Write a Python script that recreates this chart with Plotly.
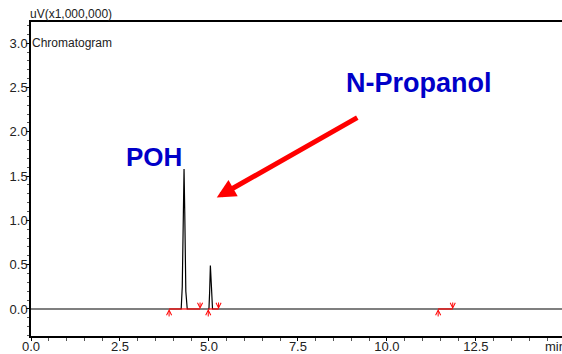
import plotly.graph_objects as go

# Chromatogram signal (time in min, signal in uV x1,000,000)
time_min = [0.0, 4.22, 4.25, 4.28, 4.30, 4.32, 4.35, 4.39, 5.00, 5.02, 5.04, 5.07, 5.10, 15.0]
signal = [0.0, 0.0, 0.25, 1.05, 1.58, 1.10, 0.20, 0.0, 0.0, 0.20, 0.49, 0.25, 0.0, 0.0]

# integration marks
peak_starts = [3.88, 4.98, 11.44]
peak_ends = [4.75, 5.27, 11.85]

y_tick_vals = [0.0, 0.5, 1.0, 1.5, 2.0, 2.5, 3.0]
y_tick_text = ["0.0", "0.5", "1.0", "1.5", "2.0", "2.5", "3.0"]
x_tick_vals = [0.0, 2.5, 5.0, 7.5, 10.0, 12.5]
x_tick_text = ["0.0", "2.5", "5.0", "7.5", "10.0", "12.5"]

FONT = "Arial, Liberation Sans, sans-serif"
RED = "#ff0000"
BLUE = "#0000c8"

W, H = 562, 354
ML, MR, MT, MB = 31, 0, 22, 18
PW, PH = W - ML - MR, H - MT - MB


def px(xp):
    return (xp - ML) / PW


def py(yp):
    return (H - MB - yp) / PH


fig = go.Figure()
fig.add_trace(go.Scatter(x=time_min, y=signal, mode="lines",
                         line=dict(color="black", width=1.2), hoverinfo="skip"))
for s, e in zip(peak_starts, peak_ends):
    fig.add_trace(go.Scatter(x=[s, e], y=[0, 0], mode="lines",
                             line=dict(color=RED, width=1.2), hoverinfo="skip"))

annotations = []
for s in peak_starts:
    annotations.append(dict(x=s, y=0, xref="x", yref="y", ax=0, ay=9,
                            showarrow=True, arrowhead=5, arrowsize=1, arrowwidth=1,
                            arrowcolor=RED, text=""))
for e in peak_ends:
    annotations.append(dict(x=e, y=0, xref="x", yref="y", ax=0, ay=-8,
                            showarrow=True, arrowhead=5, arrowsize=1, arrowwidth=1,
                            arrowcolor=RED, text=""))

# big red pointer arrow
annotations.append(dict(x=5.22, y=1.26, xref="x", yref="y",
                        ax=9.21, ay=2.17, axref="x", ayref="y",
                        showarrow=True, arrowhead=2, arrowsize=0.75, arrowwidth=5,
                        arrowcolor=RED, text=""))
annotations.append(dict(x=px(419), y=py(83), xref="paper", yref="paper",
                        xanchor="center", yanchor="middle",
                        text="<b>N-Propanol</b>", showarrow=False,
                        font=dict(family=FONT, size=27, color=BLUE)))
annotations.append(dict(x=px(153.5), y=py(156.5), xref="paper", yref="paper",
                        xanchor="center", yanchor="middle",
                        text="<b>POH</b>", showarrow=False,
                        font=dict(family=FONT, size=26, color=BLUE)))
annotations.append(dict(x=px(28), y=1, xref="paper", yref="paper",
                        xanchor="left", yanchor="bottom", yshift=-1,
                        text="uV(x1,000,000)", showarrow=False,
                        font=dict(family=FONT, size=12, color="#222")))
annotations.append(dict(x=0, y=py(43), xref="paper", yref="paper",
                        xanchor="left", yanchor="middle", xshift=-1,
                        text="Chromatogram", showarrow=False,
                        font=dict(family=FONT, size=12, color="#222")))
annotations.append(dict(x=px(543), y=py(346), xref="paper", yref="paper",
                        xanchor="left", yanchor="middle", text="min", showarrow=False,
                        font=dict(family=FONT, size=13, color="#222")))

fig.update_layout(
    width=W, height=H,
    margin=dict(l=ML, r=MR, t=MT, b=MB, autoexpand=False),
    paper_bgcolor="white", plot_bgcolor="white",
    showlegend=False,
    font=dict(family=FONT, size=13, color="#222"),
    xaxis=dict(range=[0, 14.92], tickvals=x_tick_vals, ticktext=x_tick_text,
               ticks="outside", ticklen=3, tickcolor="black", automargin=False,
               ticklabelstandoff=-5,
               minor=dict(dtick=0.5, tick0=0, ticks="outside", ticklen=3, tickcolor="#555"),
               showline=True, linecolor="black", linewidth=1.5, mirror=True,
               showgrid=False, zeroline=False, fixedrange=True),
    yaxis=dict(range=[-0.305, 3.24], tickvals=y_tick_vals, ticktext=y_tick_text,
               ticks="outside", ticklen=3, tickcolor="black", automargin=False,
               ticklabelstandoff=-4,
               minor=dict(dtick=0.1, tick0=0, ticks="outside", ticklen=2, tickcolor="#555"),
               showline=True, linecolor="black", linewidth=1.5,
               showgrid=False, zeroline=False, fixedrange=True),
    annotations=annotations,
)

fig.write_html("out.html")
